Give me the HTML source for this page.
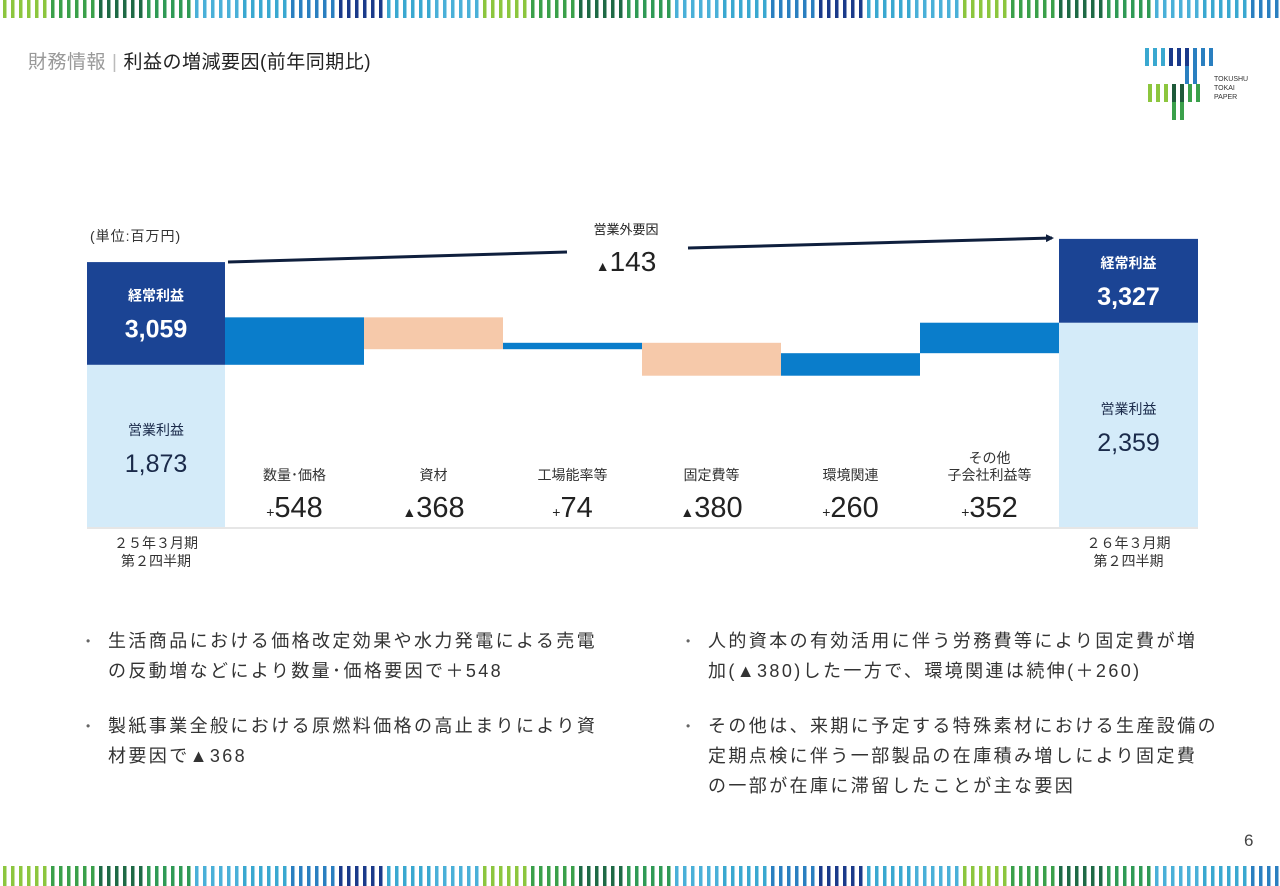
<!DOCTYPE html>
<html><head><meta charset="utf-8"><style>
body{margin:0;width:1280px;height:886px;overflow:hidden;background:#fff;font-family:"Liberation Sans","Noto Sans CJK JP",sans-serif;position:relative;color:#222}
.abs{position:absolute}
.bul{position:absolute;font-size:18px;line-height:30px;color:#333;letter-spacing:2.4px;white-space:nowrap}
.bul span.d{position:absolute;left:-22px;color:#666;font-size:12px;letter-spacing:0}
</style></head><body>
<svg class="abs" style="left:0;top:0" width="1280" height="886">
<g id="topstripe"></g><g id="botstripe"></g>
</svg>
<div class="abs" style="left:28px;top:47px;font-size:19px;letter-spacing:0.5px"><span style="color:#999">財務情報</span><span style="color:#bbb;margin:0 6px">|</span><span>利益の増減要因(前年同期比)</span></div>
<svg class="abs" style="left:1145px;top:46px" width="110" height="75">
<g fill="#3aa8d0"><rect x="0" y="2" width="4" height="18"/><rect x="8" y="2" width="4" height="18"/><rect x="16" y="2" width="4" height="18"/></g>
<g fill="#1a3a8a"><rect x="24" y="2" width="4" height="18"/><rect x="32" y="2" width="4" height="18"/><rect x="40" y="2" width="4" height="18"/></g>
<g fill="#2a7fc0"><rect x="40" y="20" width="4" height="18"/><rect x="48" y="2" width="4" height="36"/><rect x="56" y="2" width="4" height="18"/><rect x="64" y="2" width="4" height="18"/></g>
<g fill="#8cc63e"><rect x="3" y="38" width="4" height="18"/><rect x="11" y="38" width="4" height="18"/><rect x="19" y="38" width="4" height="18"/></g>
<g fill="#1e5a3a"><rect x="27" y="38" width="4" height="18"/><rect x="35" y="38" width="4" height="18"/></g>
<g fill="#3aa04a"><rect x="43" y="38" width="4" height="18"/><rect x="51" y="38" width="4" height="18"/><rect x="27" y="56" width="4" height="18"/><rect x="35" y="56" width="4" height="18"/></g>
<text x="69" y="35" font-size="7" fill="#333">TOKUSHU</text><text x="69" y="44" font-size="7" fill="#333">TOKAI</text><text x="69" y="53" font-size="7" fill="#333">PAPER</text>
</svg>
<div class="abs" style="left:90px;top:226px;font-size:14px;color:#333;letter-spacing:1px">(単位:百万円)</div>
<svg class="abs" style="left:0;top:0" width="1280" height="886" id="chart">
<defs><marker id="ah" markerWidth="8" markerHeight="8" refX="6" refY="4" orient="auto" markerUnits="userSpaceOnUse"><path d="M0,0 L8,4 L0,8z" fill="#0f1f3d"/></marker></defs>
<g id="bars"></g>
<line x1="228" y1="262" x2="567" y2="252" stroke="#0f1f3d" stroke-width="3"/>
<line x1="688" y1="248" x2="1052" y2="238" stroke="#0f1f3d" stroke-width="3" marker-end="url(#ah)"/>
<text x="626" y="234" font-size="13" text-anchor="middle" fill="#222">営業外要因</text>
<text x="626" y="271" font-size="28" text-anchor="middle" fill="#222"><tspan font-size="14">▲</tspan>143</text>
<g id="labels"></g>
</svg>
<div class="abs" style="left:87px;top:534px;width:138px;text-align:center;font-size:14px;line-height:18px;color:#333">２５年３月期<br>第２四半期</div>
<div class="abs" style="left:1059px;top:534px;width:139px;text-align:center;font-size:14px;line-height:18px;color:#333">２６年３月期<br>第２四半期</div>
<div class="bul" style="left:108px;top:626px"><span class="d">•</span>生活商品における価格改定効果や水力発電による売電<br>の反動増などにより数量･価格要因で＋548</div>
<div class="bul" style="left:108px;top:711px"><span class="d">•</span>製紙事業全般における原燃料価格の高止まりにより資<br>材要因で▲368</div>
<div class="bul" style="left:708px;top:626px"><span class="d">•</span>人的資本の有効活用に伴う労務費等により固定費が増<br>加(▲380)した一方で、環境関連は続伸(＋260)</div>
<div class="bul" style="left:708px;top:711px"><span class="d">•</span>その他は、来期に予定する特殊素材における生産設備の<br>定期点検に伴う一部製品の在庫積み増しにより固定費<br>の一部が在庫に滞留したことが主な要因</div>
<div class="abs" style="left:1244px;top:831px;font-size:17px;color:#444">6</div>
<script>
const categories=["数量･価格","資材","工場能率等","固定費等","環境関連","その他\n子会社利益等"];
const deltas=[548,-368,74,-380,260,352];
const startOperating=1873, startOrdinary=3059;
const endOperating=2359, endOrdinary=3327;
const NS="http://www.w3.org/2000/svg";
const base=527, k=0.0866, x0=87, firstW=138, colW=139;
function y(v){return base-v*k;}
function mk(tag,attrs,parent){const e=document.createElementNS(NS,tag);for(const a in attrs)e.setAttribute(a,attrs[a]);parent.appendChild(e);return e;}
const bars=document.getElementById('bars'), labels=document.getElementById('labels');
mk('line',{x1:87,y1:base+1,x2:1198,y2:base+1,stroke:'#e6e6e6','stroke-width':2},bars);
function totalBar(x,w,op,ord,tag){
  let r=mk('rect',{x:x,y:y(op),width:w,height:base-y(op),fill:'#d4ebf9'},bars);
  
  r=mk('rect',{x:x,y:y(ord),width:w,height:y(op)-y(ord),fill:'#1b4494'},bars);
  
  const cx=x+w/2, ym=(y(ord)+y(op))/2;
  let t=mk('text',{x:cx,y:ym-13,'font-size':14,'font-weight':'bold',fill:'#fff','text-anchor':'middle'},labels);t.textContent='経常利益';
  
  t=mk('text',{x:cx,y:ym+24,'font-size':25,'font-weight':'bold',fill:'#fff','text-anchor':'middle'},labels);t.textContent=ord.toLocaleString('en-US');
  
  const mid=(y(op)+base)/2;
  t=mk('text',{x:cx,y:mid-11,'font-size':14,fill:'#1a2a4a','text-anchor':'middle'},labels);t.textContent='営業利益';
  
  t=mk('text',{x:cx,y:mid+26,'font-size':25,fill:'#1a2a4a','text-anchor':'middle'},labels);t.textContent=op.toLocaleString('en-US');
  
}
totalBar(x0,firstW,startOperating,startOrdinary,'start');
let cum=startOperating;
deltas.forEach((d,i)=>{
  const x=x0+firstW+i*colW, nv=cum+d;
  const r=mk('rect',{x:x,y:y(Math.max(cum,nv)),width:colW,height:Math.abs(d)*k,fill:d>=0?'#0a7dcb':'#f6c9aa'},bars);
  
  cum=nv;
  const cx=x+colW/2, lines=categories[i].split('\n');
  lines.forEach((l,j)=>{const t=mk('text',{x:cx,y:480-(lines.length-1-j)*17,'font-size':14,fill:'#333','text-anchor':'middle'},labels);t.textContent=l;
    });
  const t=mk('text',{x:cx,y:517,'font-size':29,fill:'#222','text-anchor':'middle'},labels);
  
  const s=mk('tspan',{'font-size':14},t);s.textContent=d>=0?'+':'▲';
  const v=mk('tspan',{},t);v.textContent=Math.abs(d);
});
totalBar(x0+firstW+6*colW,colW,endOperating,endOrdinary,'end');
const pal=['#8cc63e','#3aa04a','#1e6a45','#2f9a55','#4ab0d8','#3aa8d0','#2a7fc0','#1a3a8a','#3aa8d0','#4ab0d8'];
function stripe(g,y0,h){for(let i=0;i<160;i++){const c=pal[Math.floor(i/6)%pal.length];mk('rect',{x:3+i*8,y:y0,width:3.5,height:h,fill:c},document.getElementById(g));}}
stripe('topstripe',0,18);stripe('botstripe',866,20);
</script>
</body></html>
